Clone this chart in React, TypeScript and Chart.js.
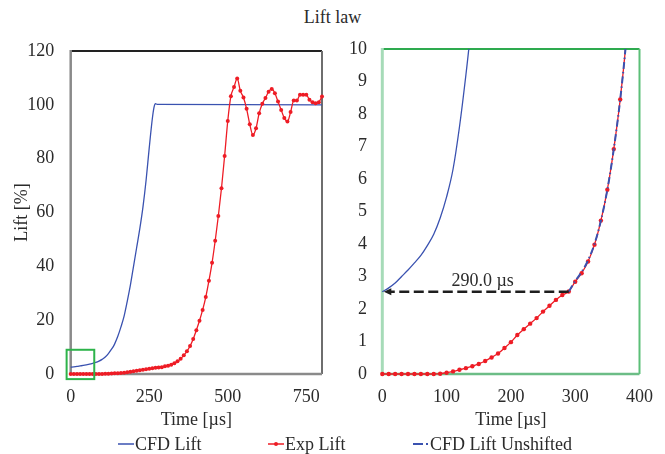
import React, { useEffect, useRef } from "react";
import { Chart, registerables } from "chart.js";

Chart.register(...registerables);

const FONT = '"Liberation Serif", "Times New Roman", Times, serif';
const TEXT = "#2b2b2b";
const BLUE = "#3a52b0";
const RED = "#ee1c25";

// CFD Lift (shifted) [µs, %]
const cfdTime = [0, 10, 20, 30, 40, 50, 60, 70, 80, 90, 100, 110, 120, 130, 135, 140, 150, 160, 170, 180, 190, 200, 210, 220, 230, 240, 250, 260, 265, 270, 275, 800];
const cfdLift = [2.53, 2.65, 2.8, 3.0, 3.2, 3.42, 3.65, 3.95, 4.3, 4.8, 5.45, 6.3, 7.6, 9.2, 10.1, 11.2, 14, 17.5, 21.5, 27, 33, 40, 47, 54, 62, 72, 84, 95, 99, 100.4, 100.2, 100];

// Experimental lift [µs, %]
const expTime = [0, 10, 20, 30, 40, 50, 60, 70, 80, 90, 100, 110, 120, 130, 140, 150, 160, 170, 180, 190, 200, 210, 220, 230, 240, 250, 260, 270, 280, 290, 300, 310, 320, 330, 340, 350, 360, 370, 380, 390, 400, 410, 420, 430, 440, 450, 460, 470, 480, 490, 500, 510, 520, 530, 540, 550, 560, 570, 580, 590, 600, 610, 620, 630, 640, 650, 660, 670, 680, 690, 700, 710, 720, 730, 740, 750, 760, 770, 780, 790, 800];
const expLift = [0, 0, 0, 0, 0, 0, 0, 0, 0, 0.01, 0.04, 0.08, 0.13, 0.18, 0.24, 0.31, 0.4, 0.51, 0.63, 0.8, 0.98, 1.2, 1.38, 1.55, 1.72, 1.92, 2.1, 2.28, 2.43, 2.54, 2.84, 3.1, 3.46, 3.98, 4.72, 5.67, 6.92, 8.45, 10.4, 13, 16.3, 19.8, 23.8, 28.6, 34.6, 41.3, 49.5, 58.7, 69, 81, 94, 103.2, 106.6, 109.8, 105.2, 102.7, 98.5, 92.8, 88.8, 91.3, 96.9, 100.4, 102.5, 104.9, 105.9, 104.3, 101.2, 98.1, 95.1, 93.8, 97.3, 101.6, 101.6, 103.7, 103.7, 103.7, 101.9, 101, 100.6, 101, 103.1];

// CFD Lift unshifted [µs, %]
const unshiftedTime = [290, 300, 310, 320, 330, 340, 350, 360, 370, 380, 390];
const unshiftedLift = [2.54, 2.86, 3.14, 3.5, 4.0, 4.72, 5.67, 6.92, 8.45, 10.4, 13];

// ticks
const leftXTicks = [0, 250, 500, 750];
const leftYTicks = [0, 20, 40, 60, 80, 100, 120];
const rightXTicks = [0, 100, 200, 300, 400];
const rightYTicks = [0, 1, 2, 3, 4, 5, 6, 7, 8, 9, 10];

// annotations
const zoomBoxX = [-13, 75];
const zoomBoxY = [-1.9, 9.0];
const shiftFrom = 290;
const shiftTo = 0;
const shiftLevel = 2.53;
const shiftLabel = "290.0 µs";
const shiftLabelPos = [156, 2.72];

const pts = (xs: number[], ys: number[]) => xs.map((x, i) => ({ x, y: ys[i] }));

const tickFont = { size: 18, family: FONT };

function frame(id: string, colors: { left: string; top: string; right: string; bottom: string }, widths: number[]) {
  return {
    id,
    beforeDatasetsDraw(chart: any) {
      const { ctx, chartArea } = chart;
      const { left, right, top, bottom } = chartArea;
      ctx.save();
      const line = (x1: number, y1: number, x2: number, y2: number, c: string, w: number) => {
        ctx.strokeStyle = c;
        ctx.lineWidth = w;
        ctx.beginPath();
        ctx.moveTo(x1, y1);
        ctx.lineTo(x2, y2);
        ctx.stroke();
      };
      line(left, top, right, top, colors.top, widths[1]);
      line(right, top, right, bottom, colors.right, widths[2]);
      line(left, bottom, right, bottom, colors.bottom, widths[3]);
      line(left, top - 1, left, bottom + 1, colors.left, widths[0]);
      ctx.restore();
    },
  };
}

const zoomBoxPlugin = {
  id: "zoomBox",
  afterDatasetsDraw(chart: any) {
    const { ctx, scales } = chart;
    const x1 = scales.x.getPixelForValue(zoomBoxX[0]);
    const x2 = scales.x.getPixelForValue(zoomBoxX[1]);
    const y1 = scales.y.getPixelForValue(zoomBoxY[1]);
    const y2 = scales.y.getPixelForValue(zoomBoxY[0]);
    ctx.save();
    ctx.strokeStyle = "#2db34a";
    ctx.lineWidth = 2;
    ctx.strokeRect(x1, y1, x2 - x1, y2 - y1);
    ctx.restore();
  },
};

const arrowPlugin = {
  id: "shiftArrow",
  afterDatasetsDraw(chart: any) {
    const { ctx, scales } = chart;
    const xa = scales.x.getPixelForValue(shiftTo);
    const xb = scales.x.getPixelForValue(shiftFrom);
    const py = scales.y.getPixelForValue(shiftLevel);
    ctx.save();
    ctx.strokeStyle = "#1e1e1e";
    ctx.fillStyle = "#1e1e1e";
    ctx.lineWidth = 2.5;
    ctx.setLineDash([10, 4.5]);
    ctx.beginPath();
    ctx.moveTo(xb, py);
    ctx.lineTo(xa + 7, py);
    ctx.stroke();
    ctx.setLineDash([]);
    ctx.beginPath();
    ctx.moveTo(xa + 1.5, py);
    ctx.lineTo(xa + 9, py - 3.5);
    ctx.lineTo(xa + 9, py + 3.5);
    ctx.closePath();
    ctx.fill();
    ctx.font = `18px ${FONT}`;
    ctx.fillStyle = TEXT;
    ctx.textAlign = "center";
    ctx.textBaseline = "alphabetic";
    ctx.fillText(shiftLabel, scales.x.getPixelForValue(shiftLabelPos[0]), scales.y.getPixelForValue(shiftLabelPos[1]));
    ctx.restore();
  },
};

function xAxis(min: number, max: number, ticks: number[]) {
  return {
    type: "linear" as const,
    min,
    max,
    afterBuildTicks: (s: any) => {
      s.ticks = ticks.map((v) => ({ value: v }));
    },
    afterFit: (s: any) => {
      s.height = 80;
    },
    grid: { display: false, drawTicks: false },
    border: { display: false },
    ticks: { padding: 12, font: tickFont, color: TEXT, maxRotation: 0, autoSkip: false },
    title: { display: true, text: "Time [µs]", font: tickFont, color: TEXT, padding: { top: 0, bottom: 23 } },
  };
}

function yAxis(min: number, max: number, ticks: number[], width: number, pad: number, title: string | null) {
  return {
    type: "linear" as const,
    min,
    max,
    afterBuildTicks: (s: any) => {
      s.ticks = ticks.map((v) => ({ value: v }));
    },
    afterFit: (s: any) => {
      s.width = width;
    },
    grid: { display: false, drawTicks: false },
    border: { display: false },
    ticks: { padding: pad, font: tickFont, color: TEXT, autoSkip: false },
    title: title
      ? { display: true, text: title, font: tickFont, color: TEXT, padding: { top: 11, bottom: 0 } }
      : { display: false },
  };
}

function leftConfig(): any {
  return {
    type: "line",
    data: {
      datasets: [
        {
          label: "CFD Lift",
          data: pts(cfdTime, cfdLift),
          borderColor: BLUE,
          borderWidth: 1.3,
          pointRadius: 0,
          cubicInterpolationMode: "monotone",
          order: 2,
          clip: 4,
        },
        {
          label: "Exp Lift",
          data: pts(expTime, expLift),
          borderColor: RED,
          backgroundColor: RED,
          borderWidth: 1.3,
          pointRadius: 2,
          pointBorderWidth: 0,
          cubicInterpolationMode: "monotone",
          order: 1,
          clip: 4,
        },
      ],
    },
    options: {
      animation: false,
      responsive: false,
      devicePixelRatio: 1,
      layout: { padding: { top: 51, right: 23, bottom: 0, left: 0 } },
      plugins: { legend: { display: false }, tooltip: { enabled: false } },
      scales: {
        x: xAxis(0, 800, leftXTicks),
        y: yAxis(0, 120, leftYTicks, 70.7, 16.5, "Lift [%]"),
      },
    },
    plugins: [
      frame("frameL", { left: "#8a8a8a", top: "#222222", right: "#6e6e6e", bottom: "#8a8a8a" }, [2.5, 2, 2, 2.5]),
      zoomBoxPlugin,
    ],
  };
}

function rightConfig(): any {
  const clip = { left: 4, right: 4, bottom: 4, top: 0 };
  return {
    type: "line",
    data: {
      datasets: [
        {
          label: "CFD Lift Unshifted",
          data: pts(unshiftedTime, unshiftedLift),
          borderColor: BLUE,
          borderWidth: 2,
          borderDash: [7, 3, 1.5, 3],
          pointRadius: 0,
          cubicInterpolationMode: "monotone",
          order: 0,
          clip,
        },
        {
          label: "CFD Lift",
          data: pts(cfdTime, cfdLift),
          borderColor: BLUE,
          borderWidth: 1.3,
          pointRadius: 0,
          cubicInterpolationMode: "monotone",
          order: 2,
          clip,
        },
        {
          label: "Exp Lift",
          data: pts(expTime, expLift),
          borderColor: RED,
          backgroundColor: RED,
          borderWidth: 1.3,
          pointRadius: 2.2,
          pointBorderWidth: 0,
          cubicInterpolationMode: "monotone",
          order: 1,
          clip,
        },
      ],
    },
    options: {
      animation: false,
      responsive: false,
      devicePixelRatio: 1,
      layout: { padding: { top: 49, right: 15, bottom: 0, left: 0 } },
      plugins: { legend: { display: false }, tooltip: { enabled: false } },
      scales: {
        x: xAxis(0, 400, rightXTicks),
        y: yAxis(0, 10, rightYTicks, 47.3, 15.3, null),
      },
    },
    plugins: [
      frame("frameR", { left: "#a6dbb8", top: "#2eaa4f", right: "#5cbf78", bottom: "#6cbd86" }, [3, 2, 2, 2.5]),
      arrowPlugin,
    ],
  };
}

function ChartCanvas({ make, left, width }: { make: () => any; left: number; width: number }) {
  const ref = useRef<HTMLCanvasElement | null>(null);
  useEffect(() => {
    const chart = new Chart(ref.current as HTMLCanvasElement, make());
    return () => chart.destroy();
  }, []);
  return (
    <canvas
      ref={ref}
      width={width}
      height={454}
      style={{ position: "absolute", left, top: 0, width, height: 454 }}
    />
  );
}

function LegendItem({ left, label, kind }: { left: number; label: string; kind: "solid" | "marker" | "dashdot" }) {
  return (
    <div
      style={{
        position: "absolute",
        left,
        top: 433,
        height: 22,
        display: "flex",
        alignItems: "center",
        fontFamily: FONT,
        fontSize: 18,
        color: TEXT,
        whiteSpace: "nowrap",
      }}
    >
      <svg width={16} height={10} style={{ marginRight: 1 }}>
        {kind === "solid" && <line x1={0} y1={5} x2={16} y2={5} stroke={BLUE} strokeWidth={1.5} />}
        {kind === "marker" && (
          <>
            <line x1={0} y1={5} x2={16} y2={5} stroke={RED} strokeWidth={1.5} />
            <circle cx={8} cy={5} r={2} fill={RED} />
          </>
        )}
        {kind === "dashdot" && (
          <>
            <line x1={0} y1={5} x2={10} y2={5} stroke={BLUE} strokeWidth={2} />
            <line x1={13} y1={5} x2={15} y2={5} stroke={BLUE} strokeWidth={2} />
          </>
        )}
      </svg>
      <span>{label}</span>
    </div>
  );
}

export default function App() {
  return (
    <div
      style={{
        position: "fixed",
        left: 0,
        top: 0,
        width: 665,
        height: 454,
        background: "#ffffff",
        overflow: "hidden",
      }}
    >
      <div
        style={{
          position: "absolute",
          left: 0,
          top: 6,
          width: 665,
          textAlign: "center",
          fontFamily: FONT,
          fontSize: 18,
          lineHeight: "22px",
          color: TEXT,
        }}
      >
        Lift law
      </div>
      <ChartCanvas make={leftConfig} left={0} width={345} />
      <ChartCanvas make={rightConfig} left={335} width={330} />
      <LegendItem left={118} label="CFD Lift" kind="solid" />
      <LegendItem left={268} label="Exp Lift" kind="marker" />
      <LegendItem left={413} label="CFD Lift Unshifted" kind="dashdot" />
    </div>
  );
}
